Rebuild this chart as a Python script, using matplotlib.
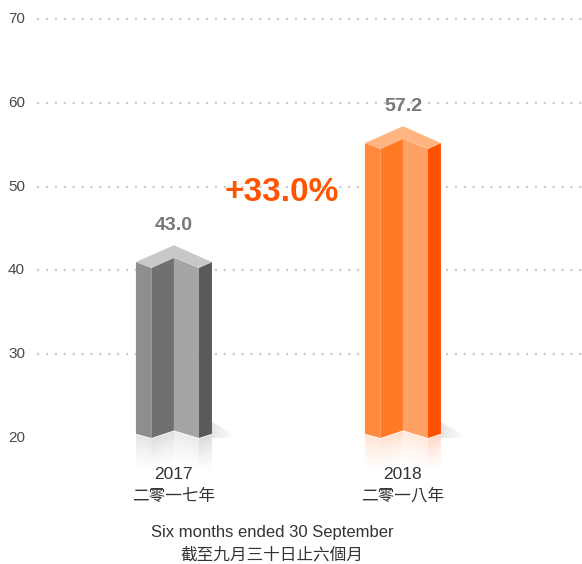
import numpy as np
import matplotlib.pyplot as plt

plt.rcParams['font.family'] = ['Liberation Sans', 'Noto Sans CJK TC', 'DejaVu Sans']

years = ['2017', '2018']
years_cn = ['二零一七年', '二零一八年']
values = [43.0, 57.2]
change = '+33.0%'
yticks = [20, 30, 40, 50, 60, 70]
caption = ['Six months ended 30 September', '截至九月三十日止六個月']

gray_faces = ['#8e8e8e', '#707070', '#a5a5a5', '#5a5a5a']
gray_top = '#c8c8c8'
orange_faces = ['#ff8a3c', '#ff7a22', '#ffa064', '#ff5200']
orange_top = '#ffb482'

fig = plt.figure(figsize=(5.82, 5.64), dpi=100)
ax = fig.add_axes([37 / 582, 1 - 488.3 / 564, 545 / 582, (488.3 - 19) / 564])
ax.set_xlim(-0.598, 1.782)
ax.set_ylim(14, 70)
ax.axis('off')

# y tick labels, left aligned near the figure edge
for t in yticks:
    ax.text(-29 / 545, t, str(t), transform=ax.get_yaxis_transform(),
            ha='left', va='center', fontsize=11, color='#4a4a4a', clip_on=False)

# dotted grid
for t in yticks[1:]:
    ax.plot([-0.598, 1.782], [t, t], color='#cccccc', lw=1.6,
            dashes=(1, 3), clip_on=False, zorder=0)

dx = np.array([-0.166, -0.098, 0.0, 0.109, 0.166])
for i, v in enumerate(values):
    faces = gray_faces if i == 0 else orange_faces
    top_c = gray_top if i == 0 else orange_top
    xs = i + dx
    tops = [v - 2.0, v - 2.7, v - 1.5, v - 2.7, v - 2.0]
    bots = [20.5, 20.0, 20.9, 20.0, 20.5]

    # shadow to the right of the bar base
    for k in range(12):
        a = 0.10 * (1 - k / 12)
        x0 = xs[4] + k * 0.008
        ax.fill([x0, x0 + 0.008, x0 + 0.008, x0],
                [20.0, 20.0, 21.8 - k * 0.12, 21.9 - k * 0.12],
                color='#000000', alpha=a, lw=0, zorder=1)

    # front faces
    for k in range(4):
        ax.fill([xs[k], xs[k + 1], xs[k + 1], xs[k]],
                [bots[k], bots[k + 1], tops[k + 1], tops[k]],
                color=faces[k], lw=0, zorder=2)
    # top face
    ax.fill([xs[0], i, xs[4], xs[3], i, xs[1]],
            [tops[0], v, tops[4], tops[3], tops[2], tops[1]],
            color=top_c, lw=0, zorder=2)

    # reflection below the base
    n = 24
    h = 4.2 / n
    for j in range(n):
        a = 0.22 * (1 - j / n) ** 1.5
        for k in range(4):
            ax.fill([xs[k], xs[k + 1], xs[k + 1], xs[k]],
                    [bots[k] - j * h - 0.1, bots[k + 1] - j * h - 0.1,
                     bots[k + 1] - (j + 1) * h - 0.1, bots[k] - (j + 1) * h - 0.1],
                    color=faces[k], alpha=a, lw=0, zorder=1, clip_on=False)

    ax.text(i, v + 2.4, f'{v:.1f}', ha='center', va='center',
            fontsize=14, fontweight='bold', color='#777777', zorder=3)
    ax.text(i, 15.7, years[i], ha='center', va='center',
            fontsize=12.5, color='#333333')
    ax.text(i, 13.05, years_cn[i], ha='center', va='center',
            fontsize=12, color='#333333', clip_on=False)

ax.text(0.47, 49.3, change, ha='center', va='center', fontsize=24,
        fontweight='bold', color='#ff5500')

fig.text(272 / 582, 1 - 532 / 564, caption[0], ha='center', va='center',
         fontsize=12, color='#333333')
fig.text(272 / 582, 1 - 555 / 564, caption[1], ha='center', va='center',
         fontsize=12, color='#333333')

fig.savefig('out.png', dpi=100)
